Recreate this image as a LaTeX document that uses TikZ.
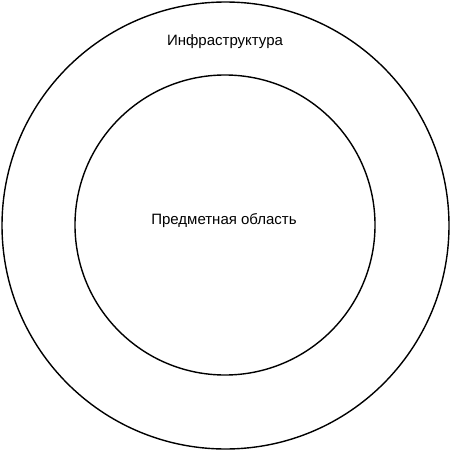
\documentclass[tikz,border=0pt]{standalone}
\usepackage{fontspec}
\setmainfont{Liberation Sans}
\begin{document}
\begin{tikzpicture}[x=1pt,y=-1pt,
  ring/.style={draw=black,line width=1.4pt,circle,inner sep=0pt},
  lbl/.style={font=\fontsize{15}{18}\selectfont,text=black}]
\useasboundingbox (0,0) rectangle (451,452);
\node[ring,minimum size=447pt] (outer) at (225.5,225.5) {};
\node[ring,minimum size=300pt] (inner) at (225,225) {};
\node[lbl] (infra) at (225,42) {Инфраструктура};
\node[lbl] (domain) at (224,221) {Предметная область};
\end{tikzpicture}
\end{document}
